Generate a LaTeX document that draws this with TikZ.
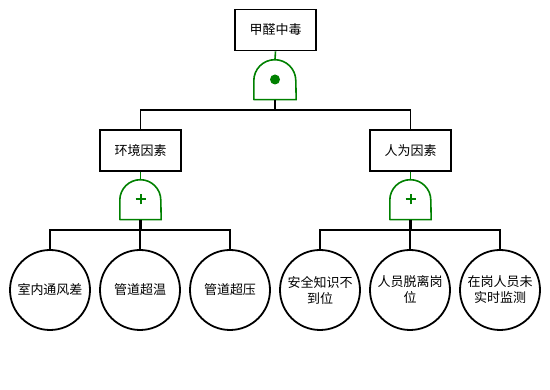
\documentclass[tikz,border=0pt]{standalone}
\usepackage{fontspec}
\newfontfamily\cjk{Noto Sans CJK SC}
\definecolor{gatecol}{RGB}{0,128,0}
\begin{document}
\begin{tikzpicture}[x=1pt,y=1pt,
  ev/.style={draw=black,line width=1.8pt,fill=white,minimum width=81pt,minimum height=41pt,inner sep=0pt,font=\cjk\fontsize{13}{16}\selectfont},
  basic/.style={draw=black,line width=1.8pt,fill=white,circle,minimum size=80pt,inner sep=0pt,align=center,font=\cjk\fontsize{13}{16}\selectfont},
  gatebox/.style={draw=none,inner sep=0pt,minimum height=40pt},
  gateline/.style={draw=gatecol,line width=1.6pt,line join=round},
  plusline/.style={draw=gatecol,line width=2pt},
  conn/.style={draw=black,line width=1.8pt},
  stem/.style={draw=black,line width=2.6pt},
  gconn/.style={draw=gatecol,line width=1.6pt}]
\useasboundingbox (0,0) rectangle (550,390);
% events
\node[ev] (top) at (275.5,360) {甲醛中毒};
\node[ev] (env) at (140.5,239.5) {环境因素};
\node[ev] (hum) at (410.5,239.5) {人为因素};
% gates
\node[gatebox,minimum width=42pt] (g1) at (275,310.5) {};
\node[gatebox,minimum width=41pt] (g2) at (140.5,190.5) {};
\node[gatebox,minimum width=41pt] (g3) at (410.5,190.5) {};
\draw[gateline] (g1.south west) -- ++(0,19) arc[start angle=180,end angle=0,radius=21] -- (g1.south east) -- cycle;
\draw[gateline] (g2.south west) -- ++(0,19.5) arc[start angle=180,end angle=0,radius=20.5] -- (g2.south east) -- cycle;
\draw[gateline] (g3.south west) -- ++(0,19.5) arc[start angle=180,end angle=0,radius=20.5] -- (g3.south east) -- cycle;
\fill[gatecol] (g1.center) circle (5);
\draw[plusline] ([xshift=-5pt]g2.center) -- ([xshift=5pt]g2.center);
\draw[plusline] ([yshift=-5pt]g2.center) -- ([yshift=5pt]g2.center);
\draw[plusline] ([xshift=-5pt]g3.center) -- ([xshift=5pt]g3.center);
\draw[plusline] ([yshift=-5pt]g3.center) -- ([yshift=5pt]g3.center);
% basic events
\node[basic] (c1) at (50,100) {室内通风差};
\node[basic] (c2) at (140,100) {管道超温};
\node[basic] (c3) at (230,100) {管道超压};
\node[basic] (c4) at (320,100) {安全知识不\\到位};
\node[basic] (c5) at (410,100) {人员脱离岗\\位};
\node[basic] (c6) at (500,100) {在岗人员未\\实时监测};
% bar levels
\coordinate (b1) at (0,280);
\coordinate (b2) at (0,160);
% connectors
\draw[gconn] (top.south) -- (g1.north);
\draw[gconn] (env.south) -- (g2.north);
\draw[gconn] (hum.south) -- (g3.north);
\draw[stem] (g1.south) -- (g1.south |- b1);
\draw[stem] (g2.south) -- (g2.south |- b2);
\draw[stem] (g3.south) -- (g3.south |- b2);
\draw[conn] (env.north) |- (hum.north |- b1) -- (hum.north);
\draw[conn] (c1.north) |- (c3.north |- b2) -- (c3.north);
\draw[conn] (c2.north) -- (c2.north |- b2);
\draw[conn] (c4.north) |- (c6.north |- b2) -- (c6.north);
\draw[conn] (c5.north) -- (c5.north |- b2);
\end{tikzpicture}
\end{document}
